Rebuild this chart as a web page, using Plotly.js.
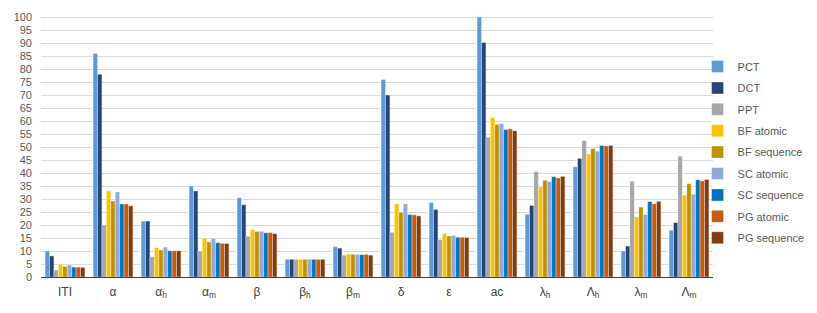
<!DOCTYPE html>
<html>
<head>
<meta charset="utf-8">
<script src="https://cdn.plot.ly/plotly-3.0.1.min.js"></script>
<style>html,body{margin:0;padding:0;background:#fff;}#chart{width:817px;height:313px;}</style>
</head>
<body>
<div id="chart"></div>
<script>
const categories = ["ITI", "α", "α<sub>h</sub>", "α<sub>m</sub>", "β", "β<sub>h</sub>", "β<sub>m</sub>", "δ", "ε", "ac", "λ<sub>h</sub>", "Λ<sub>h</sub>", "λ<sub>m</sub>", "Λ<sub>m</sub>"];
const seriesNames = ["PCT", "DCT", "PPT", "BF atomic", "BF sequence", "SC atomic", "SC sequence", "PG atomic", "PG sequence"];
const PCT        = [10.0, 86.0, 21.5, 35.0, 30.5, 6.8, 11.7, 76.0, 28.6, 100.0, 24.1, 42.4, 10.0, 18.0];
const DCT        = [8.1, 78.0, 21.5, 33.1, 27.8, 6.8, 11.1, 70.0, 26.0, 90.2, 27.5, 45.6, 11.9, 20.9];
const PPT        = [2.7, 20.0, 7.8, 10.0, 15.7, 6.8, 8.4, 17.2, 14.3, 53.8, 40.6, 52.5, 36.8, 46.5];
const BFatomic   = [4.9, 33.1, 11.3, 14.8, 18.3, 6.8, 8.8, 28.1, 16.7, 61.4, 34.7, 47.3, 23.1, 31.5];
const BFsequence = [4.1, 29.2, 10.4, 13.5, 17.5, 6.8, 8.7, 24.9, 15.8, 58.7, 37.2, 49.4, 26.9, 35.9];
const SCatomic   = [4.6, 32.7, 11.5, 14.8, 17.6, 6.8, 8.7, 28.1, 16.0, 59.0, 36.7, 48.4, 24.1, 31.8];
const SCsequence = [3.8, 28.1, 10.1, 13.2, 17.0, 6.8, 8.6, 24.0, 15.3, 56.7, 38.6, 50.6, 29.0, 37.4];
const PGatomic   = [3.8, 28.1, 10.1, 12.9, 17.1, 6.8, 8.7, 23.9, 15.3, 57.0, 38.1, 50.4, 28.2, 37.0];
const PGsequence = [3.7, 27.4, 10.1, 12.9, 16.7, 6.8, 8.4, 23.5, 15.2, 56.3, 38.7, 50.6, 29.1, 37.5];
const yTicks = [0,5,10,15,20,25,30,35,40,45,50,55,60,65,70,75,80,85,90,95,100];

const allSeries = [PCT, DCT, PPT, BFatomic, BFsequence, SCatomic, SCsequence, PGatomic, PGsequence];
const colors = ["#5B9BD5", "#264478", "#A5A5A5", "#FFC000", "#BF9000", "#8FAADC", "#0070C0", "#C55A11", "#843C0C"];

const traces = allSeries.map((vals, i) => ({
  type: "bar",
  name: seriesNames[i],
  x: categories,
  y: vals,
  legendgroup: "g" + i,
  marker: {color: colors[i], line: {color: "rgba(255,255,255,0.6)", width: 0.6}},
  hoverinfo: "x+y+name"
}));

const layout = {
  width: 817, height: 313,
  margin: {l: 41, r: 104, t: 16, b: 36, autoexpand: false},
  paper_bgcolor: "#fff", plot_bgcolor: "#fff",
  font: {family: "Liberation Sans, Arial, sans-serif", size: 11, color: "#595959"},
  barmode: "group",
  bargap: 0.17,
  bargroupgap: 0,
  showlegend: true,
  legend: {x: 0.977, xanchor: "left", y: 0.862, yanchor: "top", font: {size: 11, color: "#595959"},
           tracegroupgap: 2.4, bgcolor: "rgba(0,0,0,0)"},
  xaxis: {type: "category", showline: true, linecolor: "#404040", linewidth: 1.3, ticks: "",
          showgrid: false, tickfont: {size: 12, color: "#404040"}, ticklabelstandoff: 3, fixedrange: true},
  yaxis: {range: [0, 100.4], tickvals: yTicks, ticktext: yTicks.map(String), showgrid: true,
          gridcolor: "#D9D9D9", gridwidth: 1, zeroline: false, showline: false, ticks: "",
          tickfont: {size: 11, color: "#595959"}, ticklabelstandoff: 8, fixedrange: true}
};

Plotly.newPlot("chart", traces, layout, {displayModeBar: false, staticPlot: true});
</script>
</body>
</html>
